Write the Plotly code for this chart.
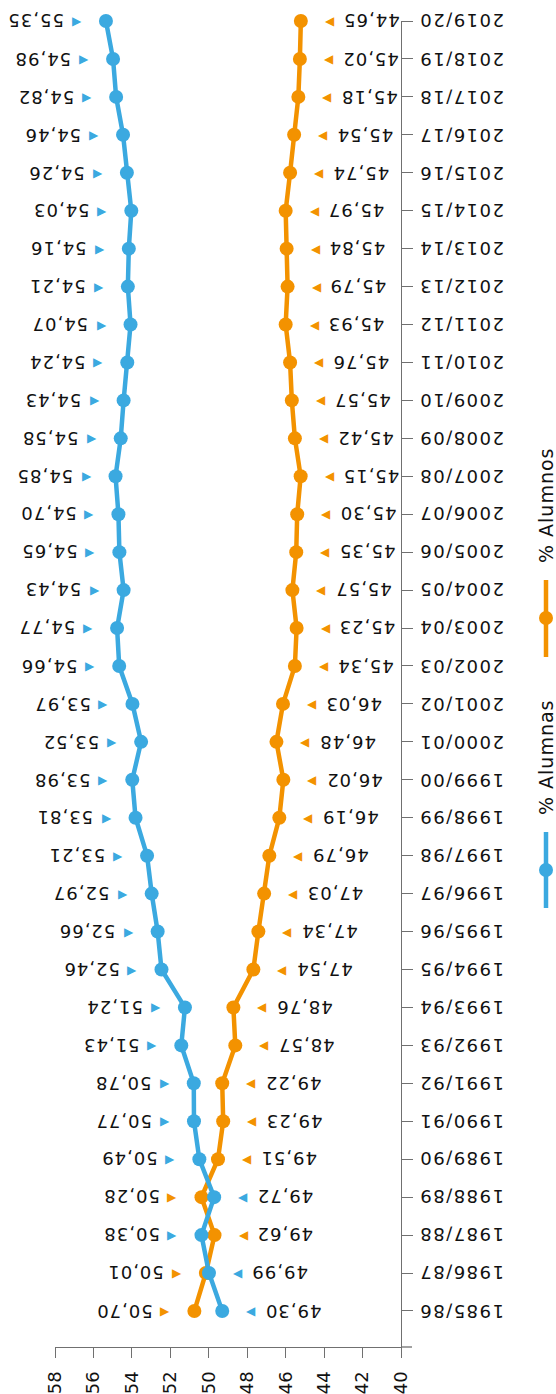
import plotly.graph_objects as go

cursos = ["1985/86", "1986/87", "1987/88", "1988/89", "1989/90", "1990/91", "1991/92",
          "1992/93", "1993/94", "1994/95", "1995/96", "1996/97", "1997/98", "1998/99",
          "1999/00", "2000/01", "2001/02", "2002/03", "2003/04", "2004/05", "2005/06",
          "2006/07", "2007/08", "2008/09", "2009/10", "2010/11", "2011/12", "2012/13",
          "2013/14", "2014/15", "2015/16", "2016/17", "2017/18", "2018/19", "2019/20"]

# % Alumnas (blue)
alumnas = [49.30, 49.99, 50.38, 49.72, 50.49, 50.77, 50.78, 51.43, 51.24, 52.46, 52.66,
           52.97, 53.21, 53.81, 53.98, 53.52, 53.97, 54.66, 54.77, 54.43, 54.65, 54.70,
           54.85, 54.58, 54.43, 54.24, 54.07, 54.21, 54.16, 54.03, 54.26, 54.46, 54.82,
           54.98, 55.35]

# % Alumnos (orange) - label values
alumnos_etiq = [50.70, 50.01, 49.62, 50.28, 49.51, 49.23, 49.22, 48.57, 48.76, 47.54, 47.34,
                47.03, 46.79, 46.19, 46.02, 46.48, 46.03, 45.34, 45.23, 45.57, 45.35, 45.30,
                45.15, 45.42, 45.57, 45.76, 45.93, 45.79, 45.84, 45.97, 45.74, 45.54, 45.18,
                45.02, 44.65]

# % Alumnos (orange) - plotted positions
alumnos_pos = [50.75, 50.15, 49.70, 50.38, 49.52, 49.25, 49.30, 48.62, 48.72, 47.68, 47.42,
               47.12, 46.85, 46.33, 46.12, 46.48, 46.14, 45.52, 45.43, 45.65, 45.45, 45.40,
               45.22, 45.52, 45.68, 45.77, 46.00, 45.90, 45.95, 46.00, 45.77, 45.56, 45.34,
               45.26, 45.21]

eje_valores = [40, 42, 44, 46, 48, 50, 52, 54, 56, 58]

BLUE = "#3BA9E0"
ORANGE = "#F39200"
FONT = "DejaVu Sans"
AXIS = "#707070"
TXT = "#111111"

W, H = 556, 1394
L, R, T, B = 55, 155, 21, 47
PW, PH = W - L - R, H - T - B


def px(xp):
    return (xp - L) / PW


def py(yp):
    return (H - B - yp) / PH


def spaced(s, sp):
    return f'<span style="letter-spacing:{sp}px">{s}</span>'


fig = go.Figure()
fig.add_trace(go.Scatter(x=alumnos_pos, y=cursos, mode="lines+markers",
                         line=dict(color=ORANGE, width=4.5),
                         marker=dict(size=14, color=ORANGE),
                         cliponaxis=False, showlegend=False, hoverinfo="skip"))
fig.add_trace(go.Scatter(x=alumnas, y=cursos, mode="lines+markers",
                         line=dict(color=BLUE, width=4.5),
                         marker=dict(size=14, color=BLUE),
                         cliponaxis=False, showlegend=False, hoverinfo="skip"))


def fmt(v):
    return f"{v:.2f}".replace(".", ",")


for i, c in enumerate(cursos):
    series = [
        (alumnas[i], alumnas[i], alumnos_etiq[i], BLUE),
        (alumnos_pos[i], alumnos_etiq[i], alumnas[i], ORANGE),
    ]
    for vpos, vlab, other, col in series:
        left = vlab > other
        fig.add_annotation(x=vpos, y=c, xref="x", yref="y", text=spaced(fmt(vlab), 1),
                           textangle=180, showarrow=False,
                           xanchor="right" if left else "left",
                           xshift=-40 if left else 40,
                           font=dict(size=18, color=TXT, family=FONT))
        fig.add_annotation(x=vpos, y=c, xref="x", yref="y",
                           text="▶" if left else "◀", showarrow=False,
                           xanchor="center", xshift=-29 if left else 29,
                           font=dict(size=12, color=col, family=FONT))
    fig.add_annotation(x=1, y=c, xref="paper", yref="y", text=spaced(c, 1.5), textangle=180,
                       showarrow=False, xanchor="left", xshift=16,
                       font=dict(size=18, color=TXT, family=FONT))

# legend (rotated)
for label, col, ytxt, yl0, yl1, ydot in [
    ("% Alumnos", ORANGE, 505, 580, 657, 618),
    ("% Alumnas", BLUE, 757, 832, 908, 870),
]:
    fig.add_annotation(x=px(546), y=py(ytxt), xref="paper", yref="paper",
                       text=spaced(label, 1), textangle=-90, showarrow=False,
                       xanchor="center", yanchor="middle",
                       font=dict(size=19, color=TXT, family=FONT))
    fig.add_shape(type="line", xref="paper", yref="paper", x0=px(546), x1=px(546),
                  y0=py(yl0), y1=py(yl1), line=dict(color=col, width=4.5))
    fig.add_shape(type="circle", xref="paper", yref="paper", xsizemode="pixel",
                  ysizemode="pixel", xanchor=px(546), yanchor=py(ydot),
                  x0=-7, x1=7, y0=-7, y1=7, fillcolor=col, line=dict(width=0))

# extension of the base line under the category ticks
fig.add_shape(type="line", xref="paper", yref="paper", xsizemode="pixel", xanchor=1,
              x0=0, x1=11, y0=0, y1=0, line=dict(color=AXIS, width=1.3))

fig.update_layout(
    width=W, height=H,
    margin=dict(l=L, r=R, t=T, b=B, pad=0, autoexpand=False),
    paper_bgcolor="white", plot_bgcolor="white",
    font=dict(family=FONT, color=TXT),
    xaxis=dict(range=[58, 40], tickvals=eje_valores, ticktext=[str(v) for v in eje_valores],
               tickangle=-90, ticks="outside", ticklen=10, tickcolor=AXIS, tickwidth=1.3,
               showline=True, linecolor=AXIS, linewidth=1.3, showgrid=False, zeroline=False,
               tickfont=dict(size=18, color=TXT), ticklabelstandoff=6, automargin=False),
    yaxis=dict(type="category", categoryorder="array", categoryarray=cursos,
               range=[-0.95, 34], side="right", ticks="outside", ticklen=11,
               tickcolor=AXIS, tickwidth=1.3, showline=True, linecolor=AXIS, linewidth=1.3,
               showgrid=False, zeroline=False, showticklabels=False, automargin=False),
)

fig.write_html(
    "out.html",
    config={"displayModeBar": False},
    post_script="document.body.style.margin='0';document.body.style.overflow='hidden';",
)
